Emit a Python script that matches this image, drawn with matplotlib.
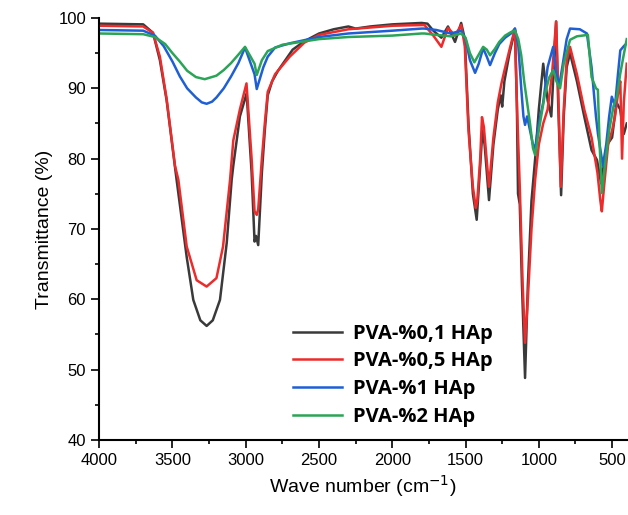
import matplotlib.pyplot as plt
from matplotlib.ticker import MultipleLocator

# FTIR spectra (wave number, transmittance %)
wn_black = [4000, 3700, 3633, 3586, 3540, 3483, 3472, 3403, 3358, 3310, 3267, 3225, 3176, 3130,
            3096, 3085, 3040, 2994, 2960, 2940, 2930, 2915, 2890, 2870, 2850, 2820, 2780, 2730,
            2680, 2600, 2500, 2400, 2300, 2250, 2150, 2000, 1800, 1760, 1720, 1665, 1620, 1572,
            1530, 1505, 1480, 1450, 1424, 1400, 1385, 1370, 1340, 1310, 1280, 1260, 1250, 1235,
            1200, 1163, 1150, 1142, 1130, 1115, 1094, 1075, 1050, 1025, 1000, 970, 940, 915,
            895, 882, 868, 848, 830, 810, 787, 740, 690, 640, 603, 575, 550, 527, 500, 470,
            445, 420, 400]
t_black = [99.2, 99.1, 97.9, 94, 88.3, 78.8, 77, 66, 59.9, 57, 56.2, 57, 59.9, 68,
           77, 79, 86, 89.3, 78, 68.2, 69, 67.7, 78, 84, 89, 91, 92.5, 94,
           95.5, 96.7, 97.8, 98.4, 98.8, 98.5, 98.8, 99.1, 99.3, 99.2, 98.2, 97.2, 98.8, 96.6,
           99.3, 97, 85, 75, 71.3, 79, 84, 82, 74.1, 82, 87, 89, 87.4, 91,
           95, 98.3, 88, 75, 73.5, 62, 48.8, 62, 74, 80, 87, 93.5, 88.3, 86,
           94, 99.5, 88, 74.8, 86, 93, 95, 91, 86, 81.2, 79.8, 76.5, 80, 82.2, 83, 88,
           87, 83.5, 85]

wn_red = [4000, 3700, 3633, 3586, 3540, 3483, 3460, 3403, 3335, 3267, 3200, 3155, 3107, 3085,
          3040, 2995, 2960, 2940, 2925, 2915, 2890, 2870, 2850, 2800, 2700, 2600, 2500, 2300,
          2000, 1800, 1780, 1720, 1665, 1620, 1572, 1530, 1505, 1480, 1450, 1430, 1420, 1400,
          1388, 1375, 1340, 1310, 1280, 1255, 1235, 1200, 1163, 1150, 1130, 1110, 1094, 1075,
          1050, 1025, 1000, 970, 940, 910, 882, 868, 850, 830, 810, 787, 740, 690, 640, 600,
          580, 570, 555, 527, 500, 480, 455, 444, 432, 420, 400]
t_red = [98.9, 98.8, 97.9, 94.5, 88.5, 79, 77, 67.5, 62.7, 61.8, 63, 67.5, 77, 82.6,
         87, 90.7, 80, 72.5, 72, 72.8, 80, 85, 89.5, 92, 94.5, 96.5, 97.6, 98.4,
         98.9, 99.0, 99.0, 97.5, 95.9, 98.6, 97.5, 99.0, 96, 84, 76, 73, 74, 80,
         85.9, 84.5, 76, 83, 88, 90.7, 92.5, 95.5, 98.5, 88, 76, 62, 53.8, 60,
         70, 77, 82, 85, 87, 92, 99.5, 90, 76, 87, 94, 95.9, 92, 87, 83, 78,
         74, 72.5, 76, 82, 84, 86, 90, 91, 80, 88, 93.5]

wn_blue = [4000, 3700, 3620, 3560, 3500, 3450, 3400, 3340, 3300, 3267, 3230, 3200, 3150, 3100,
           3050, 3005, 2940, 2925, 2880, 2850, 2800, 2700, 2500, 2300, 2000, 1800, 1780, 1700,
           1600, 1530, 1500, 1470, 1435, 1410, 1380, 1355, 1333, 1300, 1270, 1230, 1190, 1163,
           1140, 1120, 1105, 1094, 1080, 1060, 1040, 1025, 1000, 970, 940, 902, 880, 860, 840,
           810, 787, 720, 672, 640, 610, 597, 563, 540, 520, 502, 480, 460, 444, 420, 400]
t_blue = [98.3, 98.2, 97.5, 96, 93.8, 91.7, 90, 88.7, 88, 87.8, 88.1, 88.7, 90, 91.7,
          93.6, 95.8, 92, 89.9, 93, 94.5, 95.8, 96.4, 97.3, 97.8, 98.2, 98.5, 98.5, 98.3,
          97.8, 98.2, 97, 94, 92.2, 93.5, 95.7, 94.5, 93.3, 95, 96.3, 97.2, 97.8, 98.5,
          96, 90, 86, 84.8, 86, 84, 82, 81.5, 85, 88, 93, 95.9, 92, 90.5, 93,
          97, 98.5, 98.4, 97.8, 93, 86, 83.6, 79, 82, 86, 88.8, 87.5, 92, 95.4, 96, 96.4]

wn_green = [4000, 3700, 3620, 3550, 3500, 3450, 3400, 3340, 3280, 3200, 3150, 3100, 3050, 3005,
            2940, 2925, 2890, 2850, 2750, 2500, 2300, 2000, 1800, 1780, 1700, 1600, 1530, 1500,
            1470, 1440, 1410, 1380, 1355, 1333, 1300, 1270, 1230, 1190, 1163, 1140, 1120, 1100,
            1082, 1060, 1040, 1025, 1000, 960, 930, 902, 880, 855, 830, 787, 740, 665, 650,
            640, 610, 597, 585, 570, 555, 520, 490, 467, 445, 423, 400]
t_green = [97.8, 97.7, 97.3, 96.3, 95, 93.8, 92.5, 91.6, 91.3, 91.8, 92.6, 93.6, 94.8, 95.9,
           93.5, 91.9, 94, 95.3, 96.2, 97, 97.3, 97.5, 97.8, 97.8, 97.6, 97.4, 97.8, 97.2,
           95, 93.7, 94.8, 95.9, 95.5, 94.7, 95.6, 96.6, 97.5, 98, 98.2, 97, 94.7, 91,
           88.3, 85, 81.5, 80.5, 84, 89, 91.5, 92.6, 91, 90, 93.5, 96.9, 97.4, 97.6, 94,
           91.6, 90, 89.8, 82, 75.1, 78, 84, 87.5, 88.8, 92, 94.5, 97]

labels = ['PVA-%0,1 HAp', 'PVA-%0,5 HAp', 'PVA-%1 HAp', 'PVA-%2 HAp']
colors = ['#3a3a3a', '#ee2b2b', '#1f5fd6', '#2aa457']

fig = plt.figure(figsize=(6.28, 5.15), dpi=100)
ax = fig.add_axes([0.158, 0.146, 0.84, 0.819])
plt.rcParams['font.family'] = ['Liberation Sans', 'DejaVu Sans']

series = [(wn_black, t_black), (wn_red, t_red), (wn_blue, t_blue), (wn_green, t_green)]
for (x, y), lab, c in zip(series, labels, colors):
    ax.plot(x, y, color=c, lw=1.8, label=lab)

ax.set_xlim(4000, 400)
ax.set_ylim(40, 100)
ax.xaxis.set_major_locator(MultipleLocator(500))
ax.xaxis.set_minor_locator(MultipleLocator(250))
ax.yaxis.set_major_locator(MultipleLocator(10))
ax.yaxis.set_minor_locator(MultipleLocator(5))
ax.tick_params(which='major', direction='out', length=6, width=1.2, labelsize=12)
ax.tick_params(which='minor', direction='out', length=3, width=1.2)
for t in ax.get_xticklabels() + ax.get_yticklabels():
    t.set_family('Liberation Sans')

for s in ['top', 'right']:
    ax.spines[s].set_visible(False)
for s in ['left', 'bottom']:
    ax.spines[s].set_linewidth(1.5)

ax.set_xlabel('Wave number (cm$^{-1}$)', fontsize=14, family='Liberation Sans')
ax.set_ylabel('Transmittance (%)', fontsize=14, family='Liberation Sans')

leg = ax.legend(loc='upper left', bbox_to_anchor=(0.333, 0.318), frameon=False,
                prop={'family': 'Open Sans', 'weight': 'bold', 'size': 14.5},
                handlelength=2.45, labelspacing=0.38, handletextpad=0.55)

fig.savefig('out.png', dpi=100)
